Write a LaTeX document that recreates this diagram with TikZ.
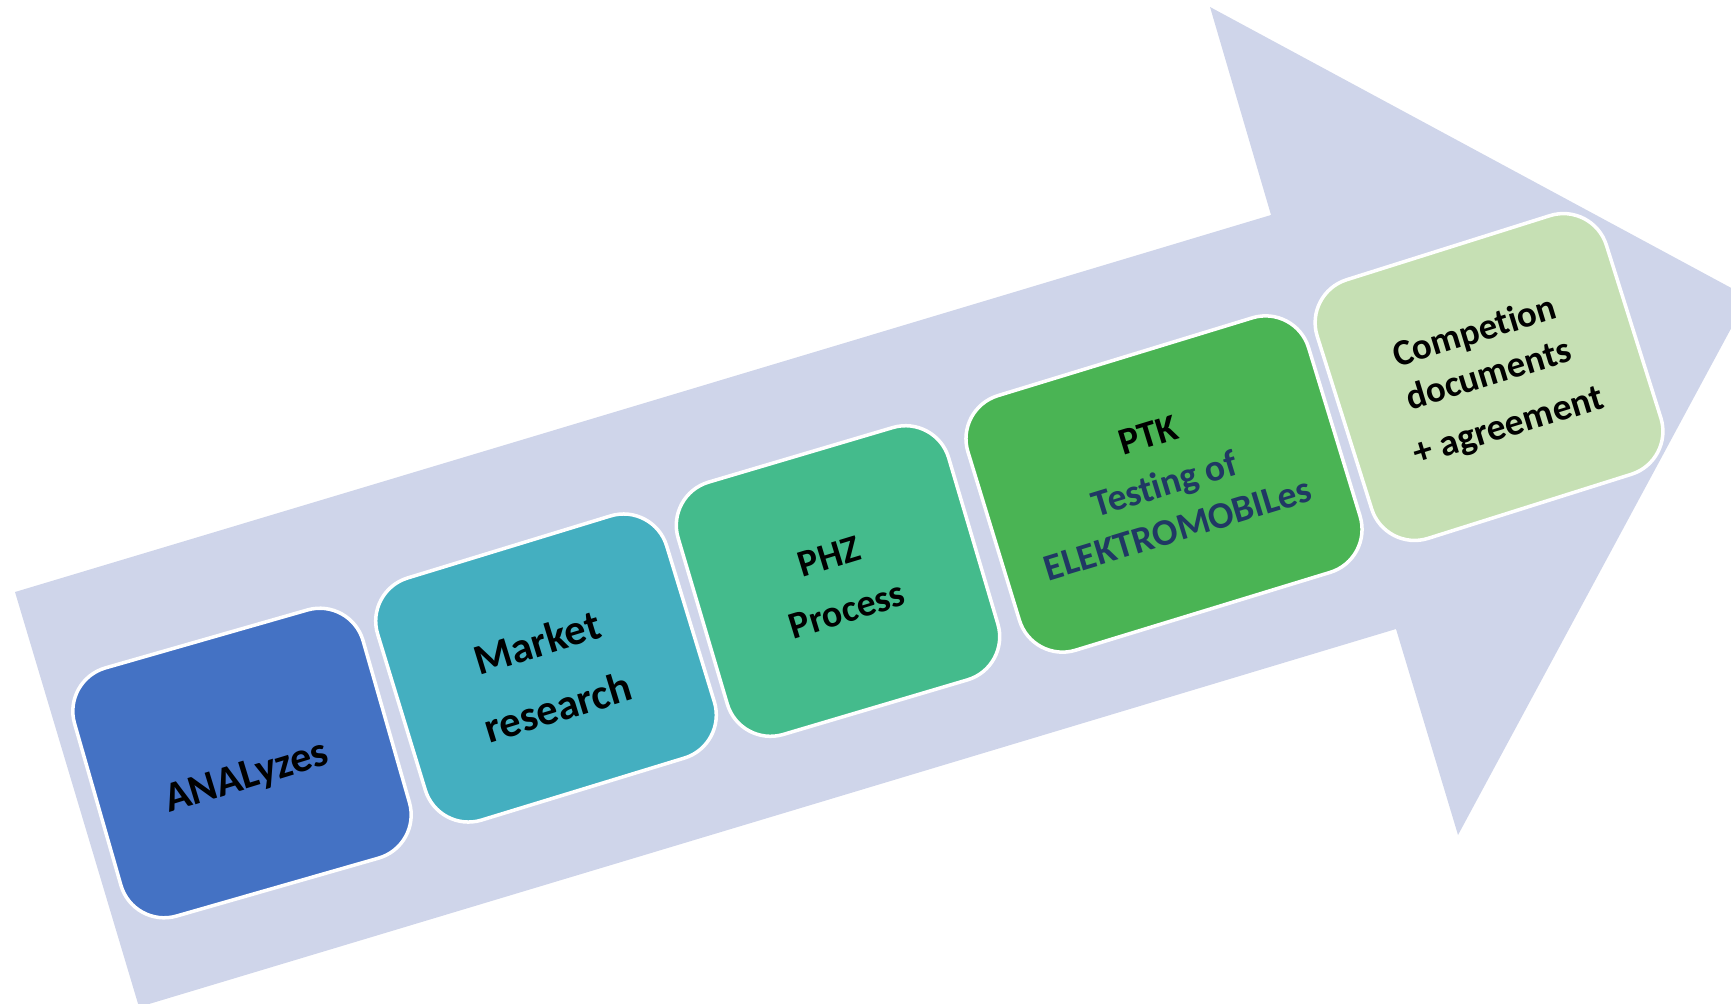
\documentclass[tikz,border=0pt]{standalone}
\usepackage{fontspec}
\setmainfont{Carlito}[Ligatures=NoCommon]
\definecolor{arrowc}{HTML}{CFD5EA}
\definecolor{boxa}{HTML}{4472C4}
\definecolor{boxb}{HTML}{44AFC0}
\definecolor{boxc}{HTML}{44BB8C}
\definecolor{boxd}{HTML}{4AB454}
\definecolor{boxe}{HTML}{C6E0B4}
\definecolor{navy}{HTML}{203864}
\tikzset{
  stepbox/.style={draw=white, line width=1pt, rounded corners=0.45cm, inner sep=0pt},
  lbl/.style={inner sep=0pt, anchor=center, font=\bfseries},
}
\begin{document}
\begin{tikzpicture}[x=0.01cm, y=-0.01cm]
\useasboundingbox (0,0) rectangle (1731,1003);
\clip (0,0) rectangle (1731,1003);
% big arrow
\fill[arrowc] (15,592) -- (1271,215) -- (1210,7) -- (1748,297) -- (1458,835) -- (1396,629) -- (139,1007) -- cycle;
% boxes
\node[stepbox, fill=boxa, rotate=16,   minimum width=3.00cm, minimum height=2.58cm] (b1) at (242,763) {};
\node[stepbox, fill=boxb, rotate=17,   minimum width=3.02cm, minimum height=2.53cm] (b2) at (546,668) {};
\node[stepbox, fill=boxc, rotate=16.5, minimum width=2.82cm, minimum height=2.63cm] (b3) at (838,581) {};
\node[stepbox, fill=boxd, rotate=17,   minimum width=3.56cm, minimum height=2.66cm] (b4) at (1164,484) {};
\node[stepbox, fill=boxe, rotate=17.5, minimum width=3.03cm, minimum height=2.71cm] (b5) at (1489,377) {};
% texts
\node[lbl, rotate=17, font=\fontsize{12}{14}\selectfont\bfseries] (t1) at (247,778) {ANALyzes};
\node[lbl, rotate=17, font=\fontsize{12.2}{14}\selectfont\bfseries] (t2a) at (537,642) {Market};
\node[lbl, rotate=17, font=\fontsize{12.2}{14}\selectfont\bfseries] (t2b) at (558,707) {research};
\node[lbl, rotate=17, font=\fontsize{10.8}{13}\selectfont\bfseries] (t3a) at (829,557) {PHZ};
\node[lbl, rotate=17, font=\fontsize{10.8}{13}\selectfont\bfseries] (t3b) at (847,610) {Process};
\node[lbl, rotate=17, font=\fontsize{10.8}{13}\selectfont\bfseries] (t4a) at (1148,435) {PTK};
\node[lbl, rotate=17, text=navy, font=\fontsize{10.7}{13}\selectfont\bfseries] (t4b) at (1165,486) {Testing of};
\node[lbl, rotate=17, text=navy, font=\fontsize{10.7}{13}\selectfont\bfseries] (t4c) at (1178,529) {ELEKTROMOBILes};
\node[lbl, rotate=17, font=\fontsize{10.5}{12}\selectfont\bfseries] (t5a) at (1475,333) {Competion};
\node[lbl, rotate=17, font=\fontsize{10.5}{12}\selectfont\bfseries] (t5b) at (1488,373) {documents};
\node[lbl, rotate=17, font=\fontsize{10.7}{12}\selectfont\bfseries] (t5c) at (1509,428) {+ agreement};
\end{tikzpicture}
\end{document}
